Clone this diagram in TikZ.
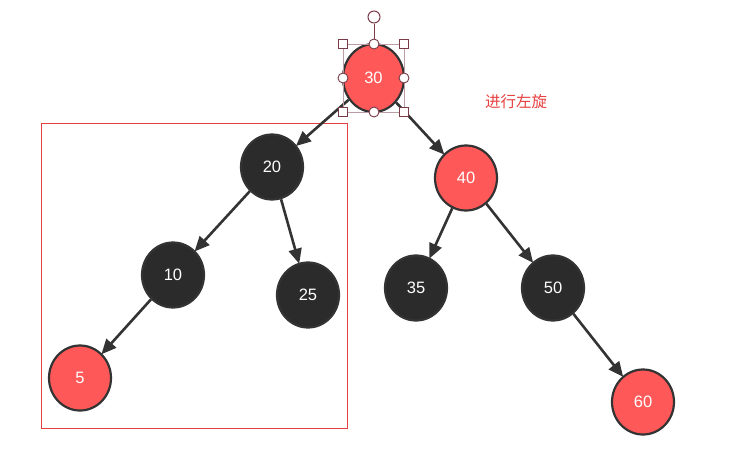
\documentclass[tikz,border=0pt]{standalone}
\usepackage{fontspec}
\setmainfont{Liberation Sans}
\newfontfamily\cjk{Noto Sans CJK SC}
\usetikzlibrary{shapes.geometric,arrows.meta}
\definecolor{nred}{HTML}{FF5858}
\definecolor{ndark}{HTML}{2B2B2B}
\definecolor{nline}{HTML}{333333}
\definecolor{hcol}{HTML}{7A3A48}
\definecolor{boxred}{HTML}{E84040}
\tikzset{
  tnode/.style={ellipse,draw=nline,line width=2.2pt,inner sep=0pt,minimum width=62pt,minimum height=65pt,text=white,font=\fontsize{16.5}{16.5}\selectfont},
  rednode/.style={tnode,fill=nred},
  blacknode/.style={tnode,fill=ndark},
  edge/.style={draw=nline,line width=2.6pt,-{Triangle[length=15pt,width=13pt]},shorten >=-1pt},
  hsq/.style={rectangle,draw=hcol,fill=white,line width=0.9pt,minimum size=9pt,inner sep=0pt},
  hci/.style={circle,draw=hcol,fill=white,line width=0.9pt,minimum size=10pt,inner sep=0pt},
}
\begin{document}
\begin{tikzpicture}[x=1pt,y=-1pt]
\useasboundingbox (0,0) rectangle (740,461);
\fill[white] (0,0) rectangle (740,461);
% red frame
\draw[boxred,line width=0.8pt] (41,123) rectangle (347,428);
% nodes
\node[rednode,minimum width=61pt,minimum height=68pt] (n30) at (373.5,78) {30};
\node[blacknode] (n20) at (272,167) {20};
\node[rednode] (n40) at (466,178) {40};
\node[blacknode] (n10) at (173,275) {10};
\node[blacknode] (n25) at (308,295) {25};
\node[blacknode] (n35) at (416,288) {35};
\node[blacknode] (n50) at (553,288) {50};
\node[rednode] (n5) at (80,378) {5};
\node[rednode] (n60) at (643,402) {60};
% edges
\draw[edge] (n30) -- (n20);
\draw[edge] (n30) -- (n40);
\draw[edge] (n20) -- (n10);
\draw[edge] (n20) -- (n25);
\draw[edge] (n10) -- (n5);
\draw[edge] (n40) -- (n35);
\draw[edge] (n40) -- (n50);
\draw[edge] (n50) -- (n60);
% selection handles
\draw[hcol!50,line width=0.6pt] (343,44) rectangle (404,112);
\node[circle,draw=hcol,fill=white,line width=1pt,minimum size=12pt,inner sep=0pt] (rot) at (374,17) {};
\coordinate (tm) at (374,44);
\draw[hcol,line width=1pt] (rot) -- (tm);
\node[hsq] (s1) at (343,44) {};
\node[hsq] (s2) at (404,44) {};
\node[hsq] (s3) at (343,112) {};
\node[hsq] (s4) at (404,112) {};
\node[hci] (c1) at (374,44) {};
\node[hci] (c2) at (343,78) {};
\node[hci] (c3) at (404,78) {};
\node[hci] (c4) at (374,112) {};
% label
\node[text=boxred,font=\cjk\fontsize{15.5}{15.5}\selectfont] (lbl) at (516,102) {进行左旋};
\end{tikzpicture}
\end{document}
